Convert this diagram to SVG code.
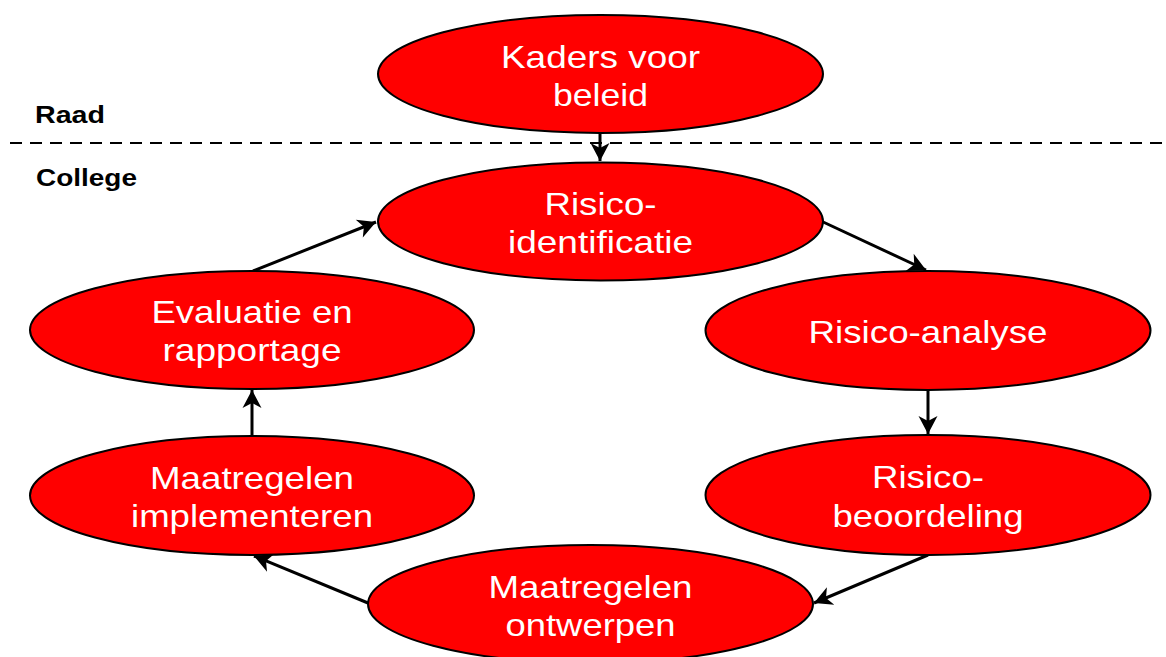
<svg xmlns="http://www.w3.org/2000/svg" width="1166" height="657" viewBox="0 0 1166 657">
<style>
.node ellipse{fill:#FF0000;stroke:#000;stroke-width:2}
.node text{fill:#fff;font-family:"Liberation Sans",Arial,sans-serif;font-size:32px;text-anchor:middle}
.lbl{fill:#000;font-family:"Liberation Sans",Arial,sans-serif;font-size:23px;font-weight:bold}
.conn line{stroke:#000;stroke-width:3;marker-end:url(#ah)}
</style>
<defs>
<marker id="ah" markerUnits="userSpaceOnUse" viewBox="-20 -11 22 22" refX="0" refY="0" markerWidth="22" markerHeight="22" orient="auto">
<path d="M0,0 L-18,-9.5 L-13,0 L-18,9.5 Z" fill="#000"/>
</marker>
</defs>
<rect width="1166" height="657" fill="#fff"/>
<line x1="10" y1="143" x2="1166" y2="143" stroke="#000" stroke-width="2" stroke-dasharray="12 8"/>
<text class="lbl" x="35" y="123" textLength="70" lengthAdjust="spacingAndGlyphs">Raad</text>
<text class="lbl" x="36" y="186" textLength="101" lengthAdjust="spacingAndGlyphs">College</text>
<g class="conn">
<line x1="600" y1="133" x2="600" y2="161"/>
<line x1="821" y1="221" x2="926" y2="270"/>
<line x1="928" y1="390" x2="928" y2="434"/>
<line x1="928" y1="555" x2="814" y2="603"/>
<line x1="368" y1="603" x2="254" y2="556"/>
<line x1="252" y1="436" x2="252" y2="390"/>
<line x1="253" y1="271" x2="376" y2="222"/>
</g>
<g id="kaders" class="node">
<ellipse cx="600.5" cy="74" rx="222.5" ry="59"/>
<text x="600.5" y="68" textLength="199" lengthAdjust="spacingAndGlyphs">Kaders voor</text>
<text x="600.5" y="106" textLength="95" lengthAdjust="spacingAndGlyphs">beleid</text>
</g>
<g id="identificatie" class="node">
<ellipse cx="600.5" cy="221.5" rx="222.5" ry="59"/>
<text x="600.5" y="215" textLength="112" lengthAdjust="spacingAndGlyphs">Risico-</text>
<text x="600.5" y="253" textLength="185" lengthAdjust="spacingAndGlyphs">identificatie</text>
</g>
<g id="analyse" class="node">
<ellipse cx="928" cy="330.5" rx="222.5" ry="59.5"/>
<text x="928" y="343" textLength="239" lengthAdjust="spacingAndGlyphs">Risico-analyse</text>
</g>
<g id="beoordeling" class="node">
<ellipse cx="928" cy="495" rx="222.5" ry="60"/>
<text x="928" y="488" textLength="112" lengthAdjust="spacingAndGlyphs">Risico-</text>
<text x="928" y="527" textLength="191" lengthAdjust="spacingAndGlyphs">beoordeling</text>
</g>
<g id="ontwerpen" class="node">
<ellipse cx="590.5" cy="604" rx="222.5" ry="59"/>
<text x="590.5" y="598" textLength="204" lengthAdjust="spacingAndGlyphs">Maatregelen</text>
<text x="590.5" y="636" textLength="170" lengthAdjust="spacingAndGlyphs">ontwerpen</text>
</g>
<g id="implementeren" class="node">
<ellipse cx="252" cy="495.5" rx="222" ry="59.5"/>
<text x="252" y="489" textLength="204" lengthAdjust="spacingAndGlyphs">Maatregelen</text>
<text x="252" y="527" textLength="242" lengthAdjust="spacingAndGlyphs">implementeren</text>
</g>
<g id="evaluatie" class="node">
<ellipse cx="252" cy="330" rx="222" ry="59"/>
<text x="252" y="323" textLength="201" lengthAdjust="spacingAndGlyphs">Evaluatie en</text>
<text x="252" y="361" textLength="179" lengthAdjust="spacingAndGlyphs">rapportage</text>
</g>
</svg>
